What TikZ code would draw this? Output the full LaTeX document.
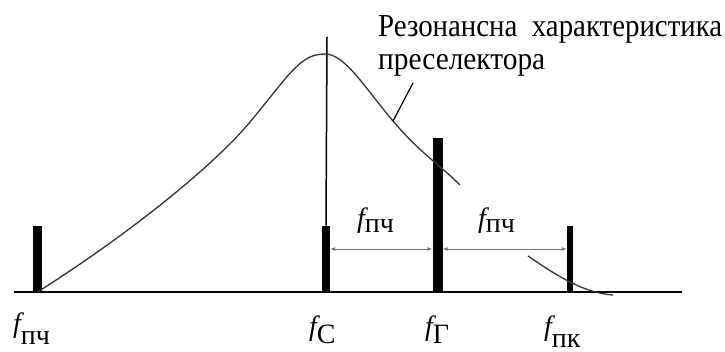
\documentclass[tikz,border=0pt]{standalone}
\usepackage{fontspec}
\usepackage{graphicx}
\setmainfont{Liberation Serif}
\usetikzlibrary{arrows.meta}
\tikzset{
  bar/.style={fill=black, draw=none, inner sep=0pt, anchor=south},
  curve/.style={draw=black!80, line width=1.3pt},
  dim/.style={draw=black!55, line width=0.9pt, {Latex[length=5pt,width=4pt]}-{Latex[length=5pt,width=4pt]}},
  lbl/.style={anchor=base west, inner sep=0pt, font=\fontsize{28}{30}\selectfont},
  note/.style={anchor=base west, inner sep=0pt, font=\fontsize{32}{34}\selectfont}
}
\begin{document}
\begin{tikzpicture}[x=1pt,y=-1pt]
\useasboundingbox (0,0) rectangle (725,352);
% axis
\coordinate (ax0) at (14,292);
\coordinate (ax1) at (682,292);
\draw[line width=2pt] (ax0) -- (ax1);
% bars
\node[bar, minimum width=9pt, minimum height=66pt] (bpch) at (37.5,292) {};
\node[bar, minimum width=8pt, minimum height=66pt] (bc) at (326,292) {};
\node[bar, minimum width=10pt, minimum height=154pt] (bg) at (437.5,292) {};
\node[bar, minimum width=6pt, minimum height=66pt] (bpk) at (570,292) {};
% thin vertical line at f_C
\coordinate (vtop) at (327,37);
\draw[line width=1.5pt] (vtop) -- (bc.north);
% resonance curve
\coordinate (onc) at (393,121);
\draw[curve] (bpch.south) .. controls (120,240) and (210,170) .. (250,122)
  .. controls (290,74) and (300,54) .. (325,54)
  .. controls (345,54) and (365,88) .. (onc)
  .. controls (420,153) and (440,165) .. (460,185);
\draw[curve] (528,256) .. controls (560,278) and (585,293) .. (613,295);
% dimension arrows
\draw[dim] (bc.east |- 0,249) -- (bg.west |- 0,249);
\draw[dim] (bg.east |- 0,249) -- (bpk.west |- 0,249);
% labels over arrows
\node[lbl] (l1) at (357,228) {\itshape f\upshape\raisebox{-5pt}{пч}};
\node[lbl] (l2) at (478,228) {\itshape f\upshape\raisebox{-5pt}{пч}};
% labels under axis
\node[lbl] (lpch) at (13,333) {\itshape f\upshape\raisebox{-12pt}{пч}};
\node[lbl] (lc) at (309,336) {\itshape f\upshape\raisebox{-7pt}{С}};
\node[lbl] (lg) at (425,336) {\itshape f\upshape\raisebox{-7pt}{Г}};
\node[lbl] (lpk) at (544,336) {\itshape f\upshape\raisebox{-11pt}{пк}};
% note
\node[note] (t1) at (378,37) {\resizebox{344pt}{\height}{Резонансна\ \ характеристика}};
\node[note] (t2) at (378,70) {\resizebox{167pt}{\height}{преселектора}};
\coordinate (lead) at (413,83);
\draw[line width=1.2pt] (lead) -- (onc);
\end{tikzpicture}
\end{document}
